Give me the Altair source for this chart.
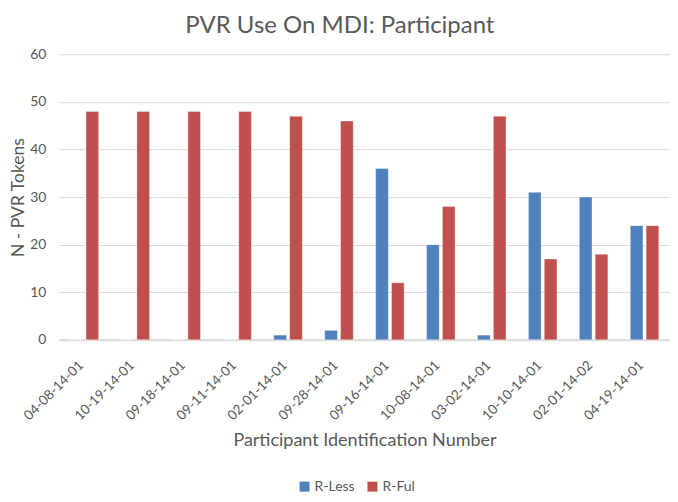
import altair as alt
import pandas as pd

participants = ["04-08-14-01", "10-19-14-01", "09-18-14-01", "09-11-14-01",
                "02-01-14-01", "09-28-14-01", "09-16-14-01", "10-08-14-01",
                "03-02-14-01", "10-10-14-01", "02-01-14-02", "04-19-14-01"]
r_less = [0, 0, 0, 0, 1, 2, 36, 20, 1, 31, 30, 24]
r_ful = [48, 48, 48, 48, 47, 46, 12, 28, 47, 17, 18, 24]
series = ["R-Less", "R-Ful"]
colors = ["#4F81BD", "#C0504D"]

rows = []
for p, a, b in zip(participants, r_less, r_ful):
    rows.append({"Participant": p, "Series": series[0], "Value": a})
    rows.append({"Participant": p, "Series": series[1], "Value": b})
df = pd.DataFrame(rows)

FONT = "Lato"
GRAY = "#595959"

chart = alt.Chart(df).mark_bar(stroke="white", strokeWidth=0.6, strokeOpacity=0.6).encode(
    x=alt.X("Participant:N", sort=participants,
            scale=alt.Scale(paddingInner=0.44, paddingOuter=0.22),
            axis=alt.Axis(title="Participant Identification Number", labelAngle=-45,
                          labelAlign="right", labelBaseline="top",
                          labelFontSize=13.5, labelColor=GRAY, labelFont=FONT,
                          titleFontSize=18, titleColor=GRAY, titleFont=FONT,
                          titleFontWeight="normal", titlePadding=9,
                          ticks=False, domainColor="#d9d9d9", domainWidth=2,
                          labelPadding=18, labelOffset=-8)),
    xOffset=alt.XOffset("Series:N", sort=series, scale=alt.Scale(paddingInner=0.2)),
    y=alt.Y("Value:Q", scale=alt.Scale(domain=[0, 60]),
            axis=alt.Axis(title="N - PVR Tokens", values=[0, 10, 20, 30, 40, 50, 60],
                          labelFontSize=14, labelColor=GRAY, labelFont=FONT,
                          titleFontSize=17.5, titleColor=GRAY, titleFont=FONT,
                          titleFontWeight="normal", titlePadding=2,
                          ticks=False, domain=False, gridColor="#d9d9d9",
                          labelPadding=13)),
    color=alt.Color("Series:N", sort=series,
                    scale=alt.Scale(domain=series, range=colors),
                    legend=alt.Legend(title=None, orient="none", direction="horizontal",
                                      legendX=239, legendY=426,
                                      symbolType="square", symbolSize=100,
                                      symbolStrokeWidth=0, symbolOffset=0,
                                      labelOffset=3,
                                      labelFontSize=14, labelColor=GRAY, labelFont=FONT,
                                      columnPadding=10)),
).properties(
    width=612, height=286,
    padding={"left": 1, "top": 6, "right": 0, "bottom": 0},
    title=alt.Title("PVR Use On MDI: Participant", fontSize=24, color=GRAY,
                    font=FONT, fontWeight="normal", offset=9,
                    frame="bounds", anchor="middle"),
).configure_view(stroke=None)

chart.save("out.html", embed_options={"renderer": "svg", "actions": False})
